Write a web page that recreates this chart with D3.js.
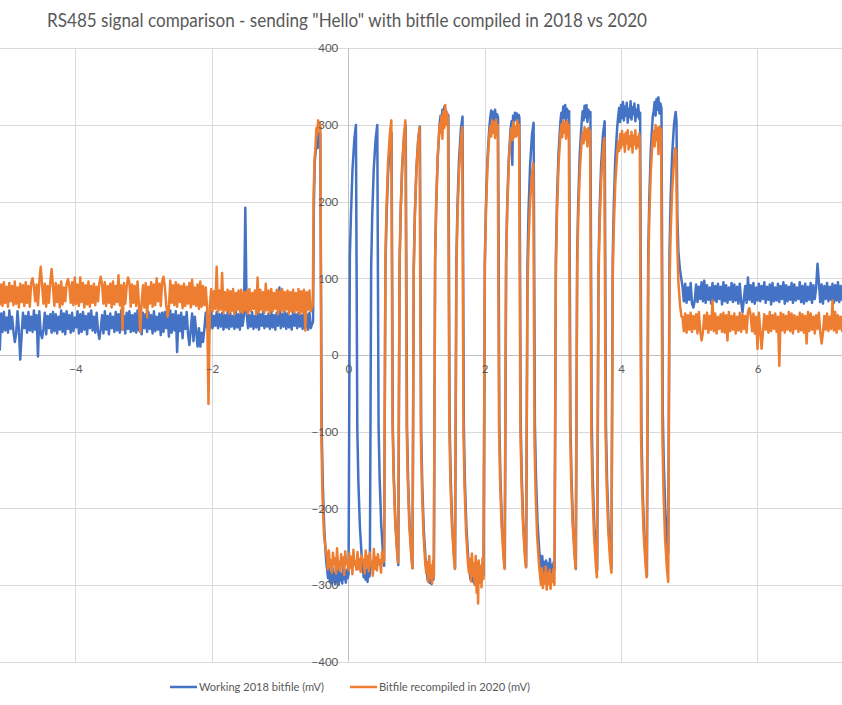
<!DOCTYPE html>
<html><head><meta charset="utf-8">
<script src="https://cdn.jsdelivr.net/npm/d3@7"></script>
<style>
body{margin:0;background:#fff;}
svg{display:block;}
text{font-family:Lato,"Open Sans",sans-serif;fill:#595959;}
</style>
</head><body>
<svg id="chart" width="842" height="705"></svg>
<script>
const chartTitle = 'RS485 signal comparison - sending "Hello" with bitfile compiled in 2018 vs 2020';
const seriesNames = ["Working 2018 bitfile (mV)", "Bitfile recompiled in 2020 (mV)"];
const seriesColors = ["#4472C4", "#ED7D31"];
const xTicks = [-4, -2, 0, 2, 4, 6];
const yTicks = [-400, -300, -200, -100, 0, 100, 200, 300, 400];

// idle (undriven bus) sample blocks: start time (ms), sample step (ms), values (mV)
const idleStep = 0.02;
const idleLeftStart = -5.11;
const idleRightStart = 4.90;

const blueIdleLeft = [
7,54,30,56,32,49,29,58,34,50,
31,17,28,57,33,-6,26,55,35,51,
29,56,32,50,30,58,33,52,-2,57,
28,22,34,55,27,51,35,53,29,56,
31,53,28,50,33,58,30,54,27,57,
34,52,29,55,31,49,36,57,28,53,
30,56,33,51,27,54,35,58,32,50,
29,55,31,21,34,52,28,57,33,51,
27,54,35,50,30,56,32,53,29,58,
33,51,28,55,34,57,30,52,31,54,
29,58,32,50,27,55,35,53,30,56,
34,52,28,57,31,50,33,54,26,55,
30,56,35,51,24,58,29,53,32,57,
4,52,31,55,22,50,34,56,28,13,
33,54,18,50,30,11,35,11,29,17,
34,55,36,52,33,57,35,51,38,56,
35,53,37,55,33,52,36,56,34,54,
37,51,34,57,36,53,33,55,38,52,
192,54,35,52,37,56,34,51,36,55,
33,53,38,56,35,51,37,54,34,57,
36,52,33,55,38,88,35,53,37,56,
34,54,36,51,33,57,38,53,35,55,
37,52,34,56,36,53,33,55,35];

const orangeIdleLeft = [
66,92,64,95,68,89,63,94,70,90,
65,96,67,88,62,93,69,91,64,95,
68,90,63,94,100,89,70,92,65,96,
115,91,67,93,63,90,68,95,112,89,
64,94,69,91,62,96,66,88,70,93,
99,90,68,95,65,101,67,92,64,101,
69,94,62,91,66,96,63,90,68,93,
65,89,70,94,102,92,67,95,64,90,
68,93,62,96,66,90,69,104,65,91,
33,94,67,89,101,95,63,92,68,90,
64,96,66,30,69,91,62,94,49,89,
67,95,63,92,65,100,70,93,64,96,
102,89,66,50,62,97,68,91,65,95,
63,92,69,90,61,93,64,89,67,94,
62,98,66,88,64,92,60,96,63,90,
65,88,61,-64,64,86,57,83,60,115,
56,84,59,107,55,82,58,85,54,83,
57,86,53,81,59,84,56,85,55,82,
58,83,54,86,57,81,60,84,53,101,
56,85,59,82,55,93,58,84,54,86,
57,81,60,85,53,83,58,86,56,82,
59,84,54,82,57,85,55,81,58,86,
53,83,56,85,32,82,59,84,57];

const blueIdleRight = [
90,70,93,68,88,72,94,67,62,71,
92,69,89,73,95,70,97,68,91,72,
88,67,94,71,90,69,93,73,89,66,
95,70,91,68,88,72,94,69,92,71,
89,67,93,70,56,73,90,68,101,72,
91,69,94,67,88,71,93,70,90,73,
95,68,89,72,92,66,94,70,88,71,
93,69,90,73,95,67,91,70,89,72,
94,68,92,71,88,73,95,69,90,67,
93,70,89,72,94,68,91,73,88,119,
95,69,92,67,90,73,94,70,89,72,
93,68,91,71,95,69,90,72];

const orangeIdleRight = [
50,31,54,29,52,33,55,30,51,34,
53,28,56,32,19,30,52,34,55,29,
51,33,71,31,54,28,50,34,53,30,
55,29,52,19,56,31,51,33,54,28,
50,32,55,30,53,34,51,29,56,61,
52,31,54,28,50,8,55,32,8,30,
53,33,51,29,56,31,52,34,54,30,
50,-14,55,32,53,29,51,33,56,31,
54,28,52,34,50,30,55,32,53,29,
51,15,56,31,54,33,50,28,52,34,
55,30,15,29,51,33,54,31,50,34,
71,32,56,29,52,34,50,31];

// driven part of the transmission: [time ms, mV]
const blueSignal = [
[-0.517,44],[-0.505,195],[-0.492,252],[-0.478,266],[-0.462,278],[-0.448,270],[-0.434,290],[-0.422,282],[-0.411,288],
[-0.389,-103],[-0.373,-172],[-0.351,-230],[-0.323,-270],
[-0.310,-280],[-0.297,-291],[-0.284,-274],[-0.271,-296],[-0.258,-283],[-0.245,-298],[-0.232,-277],[-0.219,-293],[-0.206,-285],[-0.193,-299],[-0.180,-276],[-0.167,-295],[-0.154,-282],[-0.141,-300],[-0.128,-279],[-0.115,-294],[-0.102,-286],[-0.089,-298],[-0.076,-275],[-0.063,-292],[-0.050,-283],[-0.037,-297],[-0.024,-280],[-0.011,-291],[0.004,-286],
[0.023,130],[0.039,183],[0.061,241],[0.089,282],[0.112,300],
[0.132,-96],[0.148,-166],[0.170,-224],[0.198,-265],
[0.212,-276],[0.226,-290],[0.240,-272],[0.254,-293],[0.268,-280],[0.282,-296],[0.296,-278],[0.310,-289],[0.316,-284],
[0.335,113],[0.351,183],[0.373,242],[0.401,282],[0.425,300],
[0.444,-93],[0.460,-162],[0.482,-220],[0.510,-261],[0.525,-275],
[0.544,111],[0.560,179],[0.582,235],[0.610,275],[0.634,290],
[0.653,-95],[0.669,-163],[0.691,-219],[0.719,-259],[0.733,-274],
[0.752,118],[0.768,187],[0.790,244],[0.818,285],[0.842,300],
[0.861,-94],[0.877,-164],[0.899,-222],[0.927,-263],[0.941,-278],
[0.960,115],[0.976,184],[0.998,242],[1.026,283],[1.050,298],
[1.069,-100],[1.085,-171],[1.107,-229],[1.135,-270],
[1.150,-282],[1.164,-294],[1.178,-279],[1.192,-297],[1.206,-285],[1.220,-299],[1.234,-281],[1.248,-293],[1.254,-288],
[1.273,124],[1.289,197],[1.311,257],[1.339,300],
[1.352,312],[1.366,300],[1.380,320],[1.394,305],[1.408,324],[1.422,302],[1.436,318],[1.450,308],[1.467,313],
[1.486,-91],[1.502,-162],[1.524,-222],[1.552,-263],[1.566,-278],
[1.585,124],[1.601,195],[1.623,254],[1.651,295],[1.675,311],
[1.694,-94],[1.710,-166],[1.732,-225],[1.760,-267],
[1.775,-279],[1.789,-292],[1.803,-274],[1.817,-295],[1.831,-283],[1.845,-298],[1.859,-277],[1.873,-291],[1.887,-286],[1.901,-299],[1.915,-280],[1.929,-294],[1.943,-276],[1.957,-290],[1.971,-283],[1.983,-288],
[2.002,122],[2.018,194],[2.040,255],[2.068,297],
[2.082,310],[2.096,319],[2.110,303],[2.124,317],[2.138,306],[2.152,320],[2.166,304],[2.180,314],[2.196,310],
[2.215,-91],[2.231,-162],[2.253,-221],[2.281,-262],[2.295,-277],
[2.314,124],[2.330,195],[2.352,254],[2.380,295],
[2.394,305],[2.405,248],[2.415,312],[2.430,304],[2.444,316],[2.458,307],[2.472,315],[2.486,303],[2.500,313],[2.509,309],
[2.528,-91],[2.544,-161],[2.566,-220],[2.594,-261],[2.608,-276],
[2.627,118],[2.643,188],[2.665,246],[2.693,287],[2.717,303],
[2.736,-90],[2.752,-159],[2.774,-217],[2.802,-258],
[2.816,-266],[2.830,-281],[2.844,-262],[2.858,-286],[2.872,-270],[2.886,-289],[2.900,-268],[2.914,-284],[2.928,-272],[2.942,-290],[2.956,-266],[2.970,-283],[2.984,-274],[2.998,-288],[3.012,-270],[3.025,-280],
[3.044,129],[3.060,202],[3.082,262],[3.110,304],
[3.124,316],[3.138,304],[3.152,324],[3.166,309],[3.180,326],[3.194,305],[3.208,321],[3.222,310],[3.238,318],
[3.257,-89],[3.273,-161],[3.295,-221],[3.323,-263],[3.337,-279],
[3.356,130],[3.372,202],[3.394,262],[3.422,304],
[3.436,318],[3.450,306],[3.464,325],[3.478,310],[3.492,326],[3.506,304],[3.520,320],[3.534,311],[3.550,317],
[3.569,-90],[3.585,-162],[3.607,-222],[3.635,-264],[3.650,-280],
[3.669,118],[3.685,189],[3.707,247],[3.735,288],[3.759,305],
[3.778,-93],[3.794,-163],[3.816,-222],[3.844,-262],[3.858,-278],
[3.877,125],[3.893,196],[3.915,256],[3.943,297],
[3.957,311],[3.971,322],[3.985,304],[3.999,326],[4.013,309],[4.027,330],[4.041,306],[4.055,324],[4.069,312],[4.083,329],[4.097,303],[4.111,321],[4.125,310],[4.139,331],[4.153,307],[4.167,323],[4.181,314],[4.195,328],[4.209,305],[4.223,320],[4.237,311],[4.251,326],[4.265,308],[4.279,316],
[4.298,-96],[4.314,-169],[4.336,-229],[4.364,-272],[4.379,-288],
[4.398,132],[4.414,206],[4.436,268],[4.464,311],
[4.478,318],[4.492,330],[4.506,312],[4.520,334],[4.534,320],[4.548,336],[4.562,315],[4.576,328],[4.592,322],
[4.611,-75],[4.627,-145],[4.649,-204],[4.677,-244],[4.691,-258],
[4.710,134],[4.726,203],[4.748,260],[4.776,301],[4.800,317],
[4.812,305],[4.825,180],[4.840,135],[4.862,112],[4.885,98]
];

const orangeSignal = [
[-0.520,66],[-0.508,211],[-0.495,255],[-0.482,270],[-0.468,296],[-0.455,288],[-0.442,306],[-0.430,295],[-0.418,302],[-0.410,298],
[-0.394,-110],[-0.378,-185],[-0.356,-235],[-0.328,-255],
[-0.315,-262],[-0.300,-280],[-0.285,-255],[-0.270,-276],[-0.255,-268],[-0.240,-284],[-0.225,-258],[-0.210,-273],[-0.195,-265],[-0.180,-285],
[-0.165,-252],[-0.150,-278],[-0.135,-270],[-0.120,-282],[-0.105,-260],[-0.090,-275],[-0.075,-264],[-0.060,-287],[-0.045,-256],[-0.030,-272],
[-0.015,-268],[0.000,-281],[0.015,-259],[0.030,-277],[0.045,-263],[0.060,-286],[0.075,-254],[0.090,-274],[0.105,-269],[0.120,-280],
[0.135,-257],[0.150,-279],[0.165,-266],[0.180,-283],[0.195,-261],[0.210,-271],[0.225,-267],[0.240,-285],[0.255,-255],[0.270,-276],
[0.285,-262],[0.300,-282],[0.315,-258],[0.330,-275],[0.345,-270],[0.360,-288],[0.375,-253],[0.390,-279],[0.405,-264],[0.420,-281],
[0.435,-260],[0.450,-273],[0.465,-268],[0.480,-284],[0.495,-257],[0.510,-270],[0.525,-268],
[0.544,122],[0.560,191],[0.582,249],[0.610,289],[0.631,306],
[0.648,-87],[0.664,-156],[0.686,-214],[0.714,-255],[0.729,-271],
[0.752,121],[0.768,191],[0.790,248],[0.818,289],[0.837,306],
[0.856,-92],[0.872,-162],[0.894,-221],[0.922,-261],[0.941,-278],
[0.960,113],[0.976,182],[0.998,240],[1.026,280],[1.045,297],
[1.064,-104],[1.080,-174],[1.102,-233],[1.130,-274],
[1.145,-285],[1.159,-270],[1.173,-296],[1.187,-262],[1.201,-291],[1.215,-275],[1.229,-298],[1.243,-268],[1.254,-290],
[1.273,125],[1.289,198],[1.311,259],[1.339,302],
[1.352,290],[1.366,312],[1.380,282],[1.394,318],[1.408,296],[1.422,326],[1.436,300],[1.450,315],[1.462,305],
[1.481,-93],[1.497,-164],[1.519,-222],[1.547,-263],[1.562,-279],
[1.585,113],[1.601,182],[1.623,239],[1.651,280],[1.670,297],
[1.689,-102],[1.705,-173],[1.727,-231],[1.755,-272],
[1.770,-284],[1.784,-266],[1.798,-295],[1.812,-259],[1.826,-288],[1.840,-272],[1.854,-300],[1.868,-262],[1.882,-310],[1.896,-270],[1.903,-324],[1.912,-268],[1.926,-297],[1.940,-275],[1.954,-303],[1.968,-265],[1.982,-292],
[2.002,115],[2.018,186],[2.040,246],[2.068,288],
[2.082,298],[2.096,285],[2.110,306],[2.124,290],[2.138,303],[2.152,283],[2.166,307],[2.180,292],[2.191,300],
[2.210,-95],[2.226,-165],[2.248,-223],[2.276,-264],[2.291,-279],
[2.314,119],[2.330,189],[2.352,248],[2.380,288],
[2.394,296],[2.408,280],[2.422,304],[2.436,284],[2.450,298],[2.464,285],[2.478,306],[2.492,288],[2.504,300],
[2.523,-94],[2.539,-163],[2.561,-221],[2.589,-262],[2.604,-277],
[2.627,83],[2.643,146],[2.665,199],[2.693,236],[2.712,250],
[2.731,-117],[2.747,-182],[2.769,-236],[2.797,-274],
[2.812,-288],[2.826,-300],[2.840,-278],[2.854,-304],[2.868,-285],[2.882,-298],[2.896,-276],[2.910,-306],[2.924,-284],[2.938,-299],[2.952,-280],[2.966,-305],[2.980,-287],[2.994,-296],[3.008,-279],[3.022,-300],
[3.044,114],[3.060,186],[3.082,246],[3.110,288],
[3.124,300],[3.138,284],[3.152,306],[3.166,290],[3.180,303],[3.194,282],[3.208,305],[3.222,291],[3.233,300],
[3.252,-94],[3.268,-163],[3.290,-221],[3.318,-262],[3.333,-279],
[3.356,113],[3.372,182],[3.394,239],[3.422,280],
[3.436,290],[3.450,276],[3.464,297],[3.478,281],[3.492,294],[3.506,272],[3.520,296],[3.534,284],[3.545,292],
[3.564,-105],[3.580,-175],[3.602,-234],[3.630,-274],[3.645,-290],
[3.669,100],[3.685,169],[3.707,227],[3.735,267],[3.754,283],
[3.773,-103],[3.789,-171],[3.811,-228],[3.839,-268],[3.858,-284],
[3.877,100],[3.893,167],[3.915,224],[3.943,263],
[3.957,278],[3.971,266],[3.985,288],[3.999,270],[4.013,292],[4.027,274],[4.041,287],[4.055,265],[4.069,290],[4.083,276],[4.097,293],[4.111,268],[4.125,285],[4.139,272],[4.153,291],[4.167,264],[4.181,286],[4.195,275],[4.209,293],[4.223,269],[4.237,284],[4.251,272],[4.265,289],[4.274,280],
[4.293,-108],[4.309,-177],[4.331,-234],[4.359,-274],[4.374,-290],
[4.398,111],[4.414,182],[4.436,241],[4.464,282],
[4.478,292],[4.492,272],[4.506,300],[4.520,280],[4.534,296],[4.548,262],[4.562,298],[4.576,283],[4.587,294],
[4.606,-108],[4.622,-179],[4.644,-238],[4.672,-279],[4.691,-296],
[4.710,90],[4.726,158],[4.748,214],[4.776,254],[4.795,270],
[4.807,265],[4.822,150],[4.840,95],[4.864,65],[4.885,50]
];

// ---------- layout ----------
const W = 842, H = 705;
const svg = d3.select("#chart");
const x = d3.scaleLinear().domain([-5.107, 7.239]).range([0, W]);
const y = d3.scaleLinear().domain([-400, 400]).range([661.7, 48.3]);

function buildSeries(idleL, signal, idleR) {
  const left = idleL.map((v, i) => [idleLeftStart + i * idleStep, v]);
  const right = idleR.map((v, i) => [idleRightStart + i * idleStep, v]);
  return left.concat(signal, right);
}
const series = [
  buildSeries(blueIdleLeft, blueSignal, blueIdleRight),
  buildSeries(orangeIdleLeft, orangeSignal, orangeIdleRight)
];

// gridlines
const grid = svg.append("g");
grid.selectAll("line.h").data(yTicks.filter(d => d !== 0)).join("line")
  .attr("x1", 0).attr("x2", W)
  .attr("y1", d => Math.round(y(d)) + 0.5).attr("y2", d => Math.round(y(d)) + 0.5)
  .attr("stroke", "#d9d9d9").attr("stroke-width", 1);
grid.selectAll("line.v").data(xTicks.filter(d => d !== 0)).join("line")
  .attr("x1", d => Math.round(x(d)) + 0.5).attr("x2", d => Math.round(x(d)) + 0.5)
  .attr("y1", y(400)).attr("y2", y(-400))
  .attr("stroke", "#d9d9d9").attr("stroke-width", 1);

// axis lines crossing at 0
svg.append("line").attr("x1", 0).attr("x2", W)
  .attr("y1", Math.round(y(0)) + 0.5).attr("y2", Math.round(y(0)) + 0.5)
  .attr("stroke", "#bfbfbf").attr("stroke-width", 1);
svg.append("line").attr("x1", Math.round(x(0)) + 0.5).attr("x2", Math.round(x(0)) + 0.5)
  .attr("y1", y(400)).attr("y2", y(-400))
  .attr("stroke", "#bfbfbf").attr("stroke-width", 1);

// series
const line = d3.line().x(d => x(d[0])).y(d => y(d[1]));
series.forEach((s, i) => {
  svg.append("path").datum(s)
    .attr("d", line)
    .attr("fill", "none")
    .attr("stroke", seriesColors[i])
    .attr("stroke-width", 2.5)
    .attr("stroke-linejoin", "round")
    .attr("stroke-linecap", "round");
});

// axes labels
const yAxis = d3.axisLeft(y).tickValues(yTicks).tickSize(0).tickPadding(10);
const gy = svg.append("g").attr("transform", `translate(${x(0)},0)`).call(yAxis);
gy.select(".domain").remove();
gy.selectAll("text").style("font-family", "Lato, sans-serif").style("font-size", "11.5px").attr("fill", "#595959");

const xAxis = d3.axisBottom(x).tickValues(xTicks).tickSize(0).tickPadding(10);
const gx = svg.append("g").attr("transform", `translate(0,${y(0)})`).call(xAxis);
gx.select(".domain").remove();
gx.selectAll("text").style("font-family", "Lato, sans-serif").style("font-size", "11.5px").attr("fill", "#595959");

// title
svg.append("text").attr("x", 347).attr("y", 27).attr("text-anchor", "middle")
  .attr("textLength", 600).attr("lengthAdjust", "spacingAndGlyphs")
  .style("font-size", "18.5px").text(chartTitle);

// legend
const legendItems = [
  {lx: 170, tx: 199, tw: 125},
  {lx: 350, tx: 379, tw: 151}
];
legendItems.forEach((it, i) => {
  svg.append("line").attr("x1", it.lx).attr("x2", it.lx + 27)
    .attr("y1", 687).attr("y2", 687)
    .attr("stroke", seriesColors[i]).attr("stroke-width", 2.5);
  svg.append("text").attr("x", it.tx).attr("y", 691)
    .attr("textLength", it.tw).attr("lengthAdjust", "spacingAndGlyphs")
    .style("font-size", "11.5px").text(seriesNames[i]);
});
</script>
</body></html>
